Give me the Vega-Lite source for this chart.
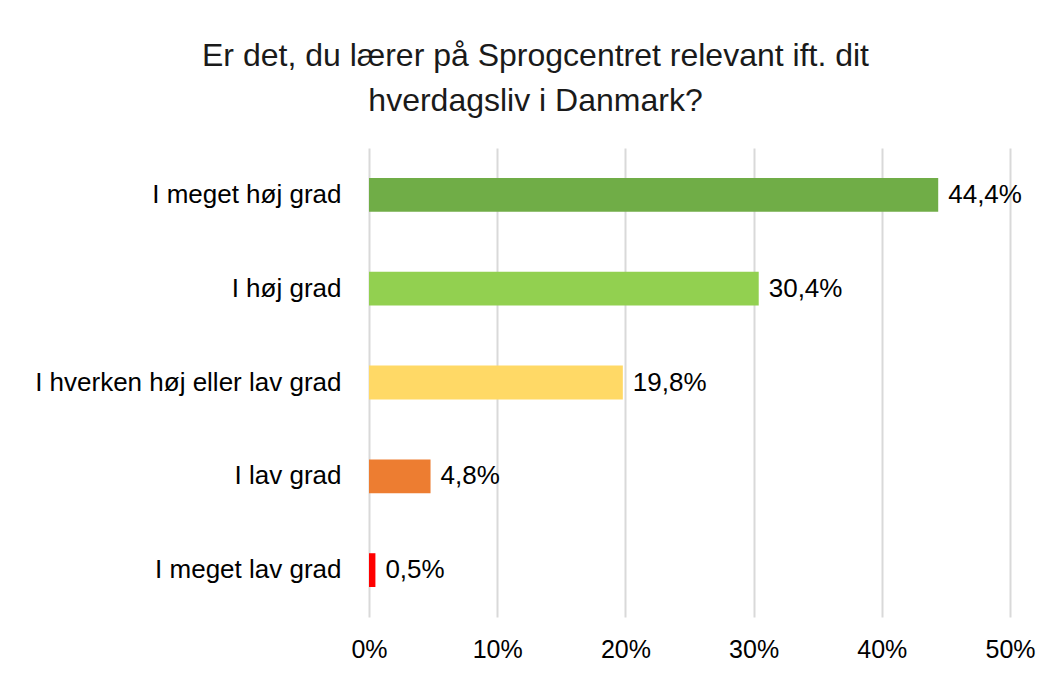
{
  "$schema": "https://vega.github.io/schema/vega-lite/v6.json",
  "autosize": {"type": "none"},
  "padding": {"left": 369, "top": 148, "right": 44, "bottom": 64},
  "width": 641,
  "height": 469,
  "background": "white",
  "title": {
    "text": ["Er det, du lærer på Sprogcentret relevant ift. dit", "hverdagsliv i Danmark?"],
    "anchor": "middle",
    "frame": "group",
    "dx": -154,
    "offset": 30,
    "fontSize": 32,
    "fontWeight": "normal",
    "font": "Liberation Sans",
    "color": "#1a1a1a",
    "lineHeight": 45
  },
  "data": {
    "values": [
      {"kategori": "I meget høj grad", "andel": 0.444, "label": "44,4%", "farve": "#70AD47"},
      {"kategori": "I høj grad", "andel": 0.304, "label": "30,4%", "farve": "#92D050"},
      {"kategori": "I hverken høj eller lav grad", "andel": 0.198, "label": "19,8%", "farve": "#FFD966"},
      {"kategori": "I lav grad", "andel": 0.048, "label": "4,8%", "farve": "#ED7D31"},
      {"kategori": "I meget lav grad", "andel": 0.005, "label": "0,5%", "farve": "#FF0000"}
    ]
  },
  "config": {
    "view": {"stroke": null},
    "font": "Liberation Sans"
  },
  "encoding": {
    "y": {
      "field": "kategori",
      "type": "nominal",
      "sort": null,
      "scale": {"paddingInner": 0.64, "paddingOuter": 0.32},
      "axis": {
        "title": null,
        "domain": false,
        "ticks": false,
        "labelFontSize": 26,
        "labelColor": "#000000",
        "labelPadding": 28,
        "labelFont": "Liberation Sans",
        "labelLimit": 400
      }
    },
    "x": {
      "field": "andel",
      "type": "quantitative",
      "scale": {"domain": [0, 0.5], "nice": false},
      "axis": {
        "title": null,
        "format": ".0%",
        "values": [0, 0.1, 0.2, 0.3, 0.4, 0.5],
        "domain": false,
        "ticks": false,
        "grid": true,
        "gridColor": "#d9d9d9",
        "gridWidth": 2,
        "labelFlush": false,
        "labelFontSize": 25,
        "labelColor": "#000000",
        "labelPadding": 20,
        "labelFont": "Liberation Sans"
      }
    }
  },
  "layer": [
    {
      "mark": {"type": "bar"},
      "encoding": {
        "color": {"field": "farve", "type": "nominal", "scale": null}
      }
    },
    {
      "mark": {"type": "text", "align": "left", "baseline": "middle", "dx": 10, "fontSize": 26, "color": "#000000", "font": "Liberation Sans"},
      "encoding": {
        "text": {"field": "label"}
      }
    }
  ]
}
